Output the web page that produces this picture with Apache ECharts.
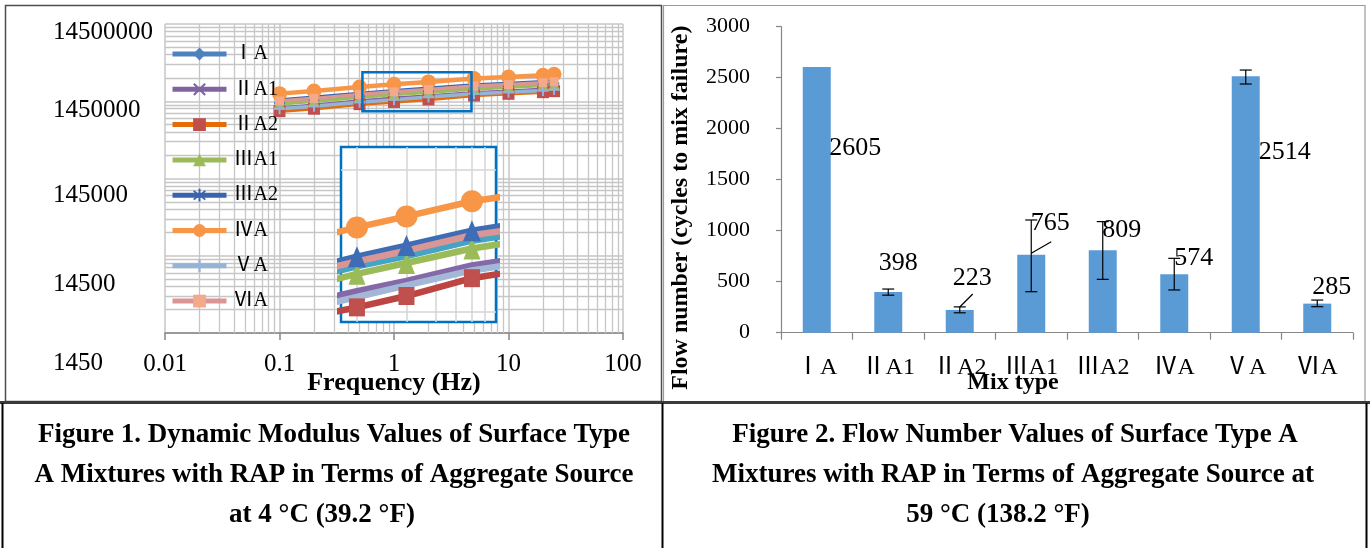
<!DOCTYPE html>
<html>
<head>
<meta charset="utf-8">
<title>Dynamic modulus and flow number of Surface Type A mixtures</title>
<script src="https://cdn.jsdelivr.net/npm/echarts@6/dist/echarts.min.js"></script>
<style>
  html, body { margin: 0; padding: 0; background: #ffffff; }
  #chart { width: 1370px; height: 548px; }
</style>
</head>
<body>
<div id="chart"></div>
<script>
// ---------- Figure 1: dynamic modulus vs loading frequency (4 °C) ----------
const freqHz = [0.1, 0.2, 0.5, 1, 2, 5, 10, 20, 25];
const mixNames = ['ⅠA', 'ⅡA1', 'ⅡA2', 'ⅢA1', 'ⅢA2', 'ⅣA', 'ⅤA', 'ⅥA'];
const modIA   = [1410000, 1520000, 1720000, 1860000, 1990000, 2200000, 2310000, 2440000, 2500000];
const modIIA1 = [1190000, 1290000, 1460000, 1580000, 1690000, 1870000, 1960000, 2070000, 2130000];
const modIIA2 = [1080000, 1160000, 1330000, 1420000, 1530000, 1720000, 1810000, 1900000, 1960000];
const modIIIA1 = [1340000, 1450000, 1630000, 1770000, 1900000, 2090000, 2200000, 2320000, 2380000];
const modIIIA2 = [1500000, 1630000, 1830000, 1980000, 2130000, 2350000, 2470000, 2600000, 2680000];
const modIVA  = [1820000, 1970000, 2220000, 2400000, 2580000, 2850000, 2990000, 3150000, 3240000];
const modVA   = [1160000, 1250000, 1410000, 1520000, 1640000, 1810000, 1900000, 2000000, 2060000];
const modVIA  = [1460000, 1580000, 1780000, 1920000, 2060000, 2280000, 2390000, 2520000, 2590000];
const xTickLabels = ['0.01', '0.1', '1', '10', '100'];
const yTickLabels = ['1450', '14500', '145000', '1450000', '14500000'];
// detail window drawn on the modulus plot: [freq, modulus] corners
const detailWindow = [[0.53, 3440000], [4.75, 1077000]];

// ---------- Figure 2: flow number (59 °C) ----------
const mixTypes = ['ⅠA', 'ⅡA1', 'ⅡA2', 'ⅢA1', 'ⅢA2', 'ⅣA', 'ⅤA', 'ⅥA'];
const flowNumber = [2605, 398, 223, 765, 809, 574, 2514, 285];
const errPlus  = [0, 30, 30, 340, 280, 155, 61, 35];
const errMinus = [0, 30, 28, 363, 286, 155, 76, 30];

const captionLeft = ['Figure 1. Dynamic Modulus Values of Surface Type',
                     'A Mixtures with RAP in Terms of Aggregate Source',
                     'at 4 °C (39.2 °F)'];
const captionRight = ['Figure 2. Flow Number Values of Surface Type A',
                      'Mixtures with RAP in Terms of Aggregate Source at',
                      '59 °C (138.2 °F)'];

// ---------- styling ----------
const SERIF = '"Liberation Serif", "Times New Roman", "Noto Sans CJK JP", "DejaVu Serif", serif';
const GRID_GRAY = '#c6c6c6';
const AXIS_GRAY = '#868686';
const X_MARK = 'path://M0,1.2L1.2,0L5,3.8L8.8,0L10,1.2L6.2,5L10,8.8L8.8,10L5,6.2L1.2,10L0,8.8L3.8,5Z';
const PLUS_MARK = 'path://M4.1,0H5.9V4.1H10V5.9H5.9V10H4.1V5.9H0V4.1H4.1Z';
const STAR_MARK = 'path://M4.3,0H5.7V3.8L8.6,1.1L9.5,2.1L6.4,5L9.5,7.9L8.6,8.9L5.7,6.2V10H4.3V6.2L1.4,8.9L0.5,7.9L3.6,5L0.5,2.1L1.4,1.1L4.3,3.8Z';

const modValues = [modIA, modIIA1, modIIA2, modIIIA1, modIIIA2, modIVA, modVA, modVIA];
const mainLook = [
  { line: '#4F81BD', mark: '#4F81BD', symbol: 'diamond', size: 11, width: 3.5 },
  { line: '#8064A2', mark: '#8064A2', symbol: X_MARK, size: 10, width: 3.5 },
  { line: '#E46C0A', mark: '#C0504D', symbol: 'rect', size: 12, width: 3.5 },
  { line: '#9BBB59', mark: '#9BBB59', symbol: 'triangle', size: 12, width: 3.5 },
  { line: '#3B62AC', mark: '#3B62AC', symbol: STAR_MARK, size: 11, width: 3.5 },
  { line: '#F79646', mark: '#F79646', symbol: 'circle', size: 15, width: 4.5 },
  { line: '#95B3D7', mark: '#95B3D7', symbol: PLUS_MARK, size: 11, width: 3.5 },
  { line: '#D99694', mark: '#F4A98A', symbol: 'rect', size: 9, width: 3.5 }
];
const detailLook = [
  { line: '#45A3C3', symbol: 'none', size: 0 },
  { line: '#8468A8', symbol: 'none', size: 0 },
  { line: '#BC4542', symbol: 'rect', size: [16, 18], mark: '#C0504D' },
  { line: '#9BBB59', symbol: 'triangle', size: [17, 22], mark: '#9BBB59' },
  { line: '#3E6DB5', symbol: 'triangle', size: [18, 21], mark: '#3E6DB5' },
  { line: '#F79646', symbol: 'circle', size: 22, mark: '#F79646' },
  { line: '#A3B7D6', symbol: 'none', size: 0 },
  { line: '#D99694', symbol: 'none', size: 0 }
];
// vertical drop of each modulus tick label below its grid line (px)
const yLabelDrop = [30.5, 29, 17, 9, 8.5];
// data-label shift from the bar top (px) and leader segments
const labelShift = [[38.5, 81], [10, -29], [12.5, -32], [19, -31.7], [19, -20], [19.5, -16], [39, 75.7], [14.5, -16.6]];
const leaderShift = [null, null, [[0, -3], [13, -16]], [[0, -1.5], [20, -13]], null, null, null, null];

// minor log grid lines (2..9 of each decade)
const xMinor = [], yMinor = [];
[0.01, 0.1, 1, 10].forEach(d => { for (let m = 2; m <= 9; m++) xMinor.push(+(d * m).toPrecision(3)); });
[1450, 14500, 145000, 1450000].forEach(d => { for (let m = 2; m <= 9; m++) yMinor.push(d * m); });

const rich = {};
yLabelDrop.forEach((d, i) => {
  rich['o' + i] = { fontSize: 25, fontFamily: SERIF, color: '#000', padding: [2 * d, 0, 0, 0] };
});

const mainSeries = mixNames.map((name, k) => ({
  type: 'line', name: name, xAxisIndex: 0, yAxisIndex: 0, z: 3,
  data: freqHz.map((f, i) => [f, modValues[k][i]]),
  symbol: mainLook[k].symbol, symbolSize: mainLook[k].size,
  showSymbol: true, showAllSymbol: true,
  lineStyle: { color: mainLook[k].line, width: mainLook[k].width },
  itemStyle: { color: mainLook[k].mark },
  emphasis: { disabled: true }, silent: true
}));

const detailSeries = mixNames.map((name, k) => ({
  type: 'line', name: name + ' detail', xAxisIndex: 1, yAxisIndex: 2, z: 6,
  data: freqHz.map((f, i) => [f, modValues[k][i]]),
  symbol: detailLook[k].symbol, symbolSize: detailLook[k].size,
  showAllSymbol: true, clip: true,
  lineStyle: { color: detailLook[k].line, width: 6.5 },
  itemStyle: { color: detailLook[k].mark || detailLook[k].line },
  emphasis: { disabled: true }, silent: true
}));

const gridLineSeries = [
  {
    type: 'line', name: 'minor grid', xAxisIndex: 0, yAxisIndex: 0, data: [], z: 1, silent: true,
    markLine: {
      silent: true, symbol: 'none', z: 1, animation: false, label: { show: false },
      emphasis: { disabled: true },
      lineStyle: { color: GRID_GRAY, width: 1.3, type: 'solid' },
      data: xMinor.map(v => ({ xAxis: v })).concat(yMinor.map(v => ({ yAxis: v })))
    }
  },
  {
    type: 'line', name: 'detail frame', xAxisIndex: 0, yAxisIndex: 0, data: [], z: 10, silent: true,
    markArea: {
      silent: true, z: 10, label: { show: false }, emphasis: { disabled: true },
      itemStyle: { color: 'rgba(0,0,0,0)', borderColor: '#0070C0', borderWidth: 2.5 },
      data: [[{ coord: detailWindow[0] }, { coord: detailWindow[1] }]]
    }
  },
  {
    type: 'line', name: 'detail grid', xAxisIndex: 1, yAxisIndex: 2, data: [], z: 5, silent: true,
    markLine: {
      silent: true, symbol: 'none', z: 5, animation: false, label: { show: false },
      emphasis: { disabled: true },
      lineStyle: { color: '#d4d4d4', width: 1.5, type: 'solid' },
      data: [1, 2, 3, 4, 5, 6].map(v => ({ xAxis: v })).concat([1380000, 3500000].map(v => ({ yAxis: v })))
    }
  }
];

const barSeries = {
  type: 'bar', name: 'Flow number', xAxisIndex: 2, yAxisIndex: 3, barWidth: 28, z: 2,
  itemStyle: { color: '#5B9BD5' },
  data: flowNumber.map((v, i) => ({ value: v, label: { offset: labelShift[i] } })),
  label: {
    show: true, position: 'top', distance: 0, align: 'center', verticalAlign: 'middle',
    fontSize: 26, fontFamily: SERIF, color: '#000'
  },
  emphasis: { disabled: true }, silent: true
};

const errorSeries = {
  type: 'custom', name: 'error', xAxisIndex: 2, yAxisIndex: 3, z: 4, silent: true,
  data: flowNumber.map((v, i) => [i, v, v + errPlus[i], v - errMinus[i]]),
  encode: { x: 0, y: 1 },
  renderItem: function (params, api) {
    const i = api.value(0);
    const children = [];
    const stroke = { stroke: '#000', lineWidth: 1.2 };
    if (errPlus[i] || errMinus[i]) {
      const hi = api.coord([i, api.value(2)]);
      const lo = api.coord([i, api.value(3)]);
      children.push({ type: 'line', shape: { x1: hi[0], y1: hi[1], x2: lo[0], y2: lo[1] }, style: stroke });
      children.push({ type: 'line', shape: { x1: hi[0] - 6, y1: hi[1], x2: hi[0] + 6, y2: hi[1] }, style: stroke });
      children.push({ type: 'line', shape: { x1: lo[0] - 6, y1: lo[1], x2: lo[0] + 6, y2: lo[1] }, style: stroke });
    }
    const lead = leaderShift[i];
    if (lead) {
      const p = api.coord([i, api.value(1)]);
      children.push({
        type: 'line',
        shape: { x1: p[0] + lead[0][0], y1: p[1] + lead[0][1], x2: p[0] + lead[1][0], y2: p[1] + lead[1][1] },
        style: stroke
      });
    }
    return { type: 'group', children: children };
  }
};

function captionTexts(lines, xs) {
  const ys = [435, 475, 515];
  return lines.map((t, i) => ({
    type: 'text', x: xs[i], y: ys[i], silent: true, z: 100,
    style: {
      text: t, fill: '#000', font: 'bold 27px ' + SERIF,
      align: 'center', verticalAlign: 'middle', textAlign: 'center', textVerticalAlign: 'middle'
    }
  }));
}

const option = {
  animation: false,
  backgroundColor: '#ffffff',
  grid: [
    { left: 165, top: 24, width: 458, height: 309, outerBoundsMode: 'none' },
    { left: 341, top: 147, width: 155, height: 175, show: true, z: 3, backgroundColor: '#ffffff',
      borderColor: '#0070C0', borderWidth: 2.5, outerBoundsMode: 'none' },
    { left: 781, top: 26.7, width: 572, height: 306, outerBoundsMode: 'none' }
  ],
  legend: {
    data: mixNames, orient: 'vertical', left: 170, top: 44, padding: 0,
    itemWidth: 54, itemHeight: 16, itemGap: 15.3, selectedMode: false,
    lineStyle: { width: 5 },
    textStyle: { fontSize: 20, lineHeight: 20, fontFamily: SERIF, color: '#000', padding: [0, 0, 0, 2] }
  },
  xAxis: [
    {
      gridIndex: 0, type: 'log', logBase: 10, min: 0.01, max: 100,
      axisLine: { show: true, lineStyle: { color: AXIS_GRAY, width: 1.5 } },
      axisTick: { show: true, length: 7, lineStyle: { color: AXIS_GRAY, width: 1.5 } },
      axisLabel: { margin: 19, fontSize: 25, fontFamily: SERIF, color: '#000',
                   formatter: (v, i) => xTickLabels[i] || '' },
      splitLine: { show: true, lineStyle: { color: GRID_GRAY, width: 1.5 } },
      minorTick: { show: false }, minorSplitLine: { show: false },
      name: 'Frequency (Hz)', nameLocation: 'middle', nameGap: 50, nameMoveOverlap: false,
      nameTextStyle: { fontSize: 26, fontWeight: 'bold', fontFamily: SERIF, color: '#000', verticalAlign: 'middle' }
    },
    { gridIndex: 1, type: 'log', logBase: 10, min: 0.8, max: 7, show: false },
    {
      gridIndex: 2, type: 'category', data: mixTypes,
      axisLine: { show: true, lineStyle: { color: AXIS_GRAY, width: 1.2 } },
      axisTick: { show: true, length: 7, alignWithLabel: false, lineStyle: { color: AXIS_GRAY, width: 1.2 } },
      axisLabel: { margin: 23, fontSize: 24, fontFamily: SERIF, color: '#000', interval: 0 },
      splitLine: { show: false },
      name: 'Mix type', nameLocation: 'middle', nameGap: 50, nameMoveOverlap: false,
      nameTextStyle: { fontSize: 24, fontWeight: 'bold', fontFamily: SERIF, color: '#000',
                       verticalAlign: 'middle', padding: [0, 108, 0, 0] }
    }
  ],
  yAxis: [
    { gridIndex: 0, type: 'log', logBase: 10, min: 1450, max: 14500000, show: false },
    {
      gridIndex: 0, type: 'value', min: 0, max: 4, interval: 1, position: 'left',
      axisLine: { show: false }, axisTick: { show: false },
      splitLine: { show: true, lineStyle: { color: GRID_GRAY, width: 1.5 } },
      axisLabel: { align: 'left', margin: 112, formatter: (v, i) => '{o' + i + '|' + yTickLabels[i] + '}', rich: rich }
    },
    { gridIndex: 1, type: 'log', logBase: 10, min: 1290000, max: 4070000, show: false },
    {
      gridIndex: 2, type: 'value', min: 0, max: 3000, interval: 500, position: 'left',
      axisLine: { show: true, lineStyle: { color: AXIS_GRAY, width: 1.2 } },
      axisTick: { show: true, length: 5, lineStyle: { color: AXIS_GRAY, width: 1.2 } },
      axisLabel: { margin: 31, fontSize: 22, fontFamily: SERIF, color: '#000', formatter: v => String(v) },
      splitLine: { show: false },
      name: 'Flow number (cycles to mix failure)', nameLocation: 'middle', nameGap: 100, nameRotate: 90,
      nameMoveOverlap: false,
      nameTextStyle: { fontSize: 24, fontWeight: 'bold', fontFamily: SERIF, color: '#000',
                       verticalAlign: 'middle', padding: [0, 56, 0, 0] }
    }
  ],
  series: gridLineSeries.concat(mainSeries, detailSeries, [barSeries, errorSeries]),
  graphic: {
    elements: [
      { type: 'rect', silent: true, z: 100, shape: { x: 5.5, y: 5.5, width: 656, height: 396 },
        style: { fill: 'none', stroke: '#4d4d4d', lineWidth: 1.5 } },
      { type: 'rect', silent: true, z: 100, shape: { x: 663.5, y: 5.5, width: 701.5, height: 396 },
        style: { fill: 'none', stroke: '#9a9a9a', lineWidth: 1.2 } },
      { type: 'line', silent: true, z: 101, shape: { x1: 0, y1: 402.5, x2: 1370, y2: 402.5 },
        style: { stroke: '#3a3a3a', lineWidth: 3 } },
      { type: 'line', silent: true, z: 101, shape: { x1: 662.5, y1: 403, x2: 662.5, y2: 548 },
        style: { stroke: '#000', lineWidth: 2 } },
      { type: 'line', silent: true, z: 101, shape: { x1: 2.5, y1: 403, x2: 2.5, y2: 548 },
        style: { stroke: '#000', lineWidth: 2 } },
      { type: 'line', silent: true, z: 101, shape: { x1: 1366.5, y1: 403, x2: 1366.5, y2: 548 },
        style: { stroke: '#000', lineWidth: 2 } }
    ].concat(captionTexts(captionLeft, [334, 334, 322]), captionTexts(captionRight, [1015, 1013, 998]))
  }
};

const chart = echarts.init(document.getElementById('chart'), null, { renderer: 'canvas' });
chart.setOption(option);
</script>
</body>
</html>
